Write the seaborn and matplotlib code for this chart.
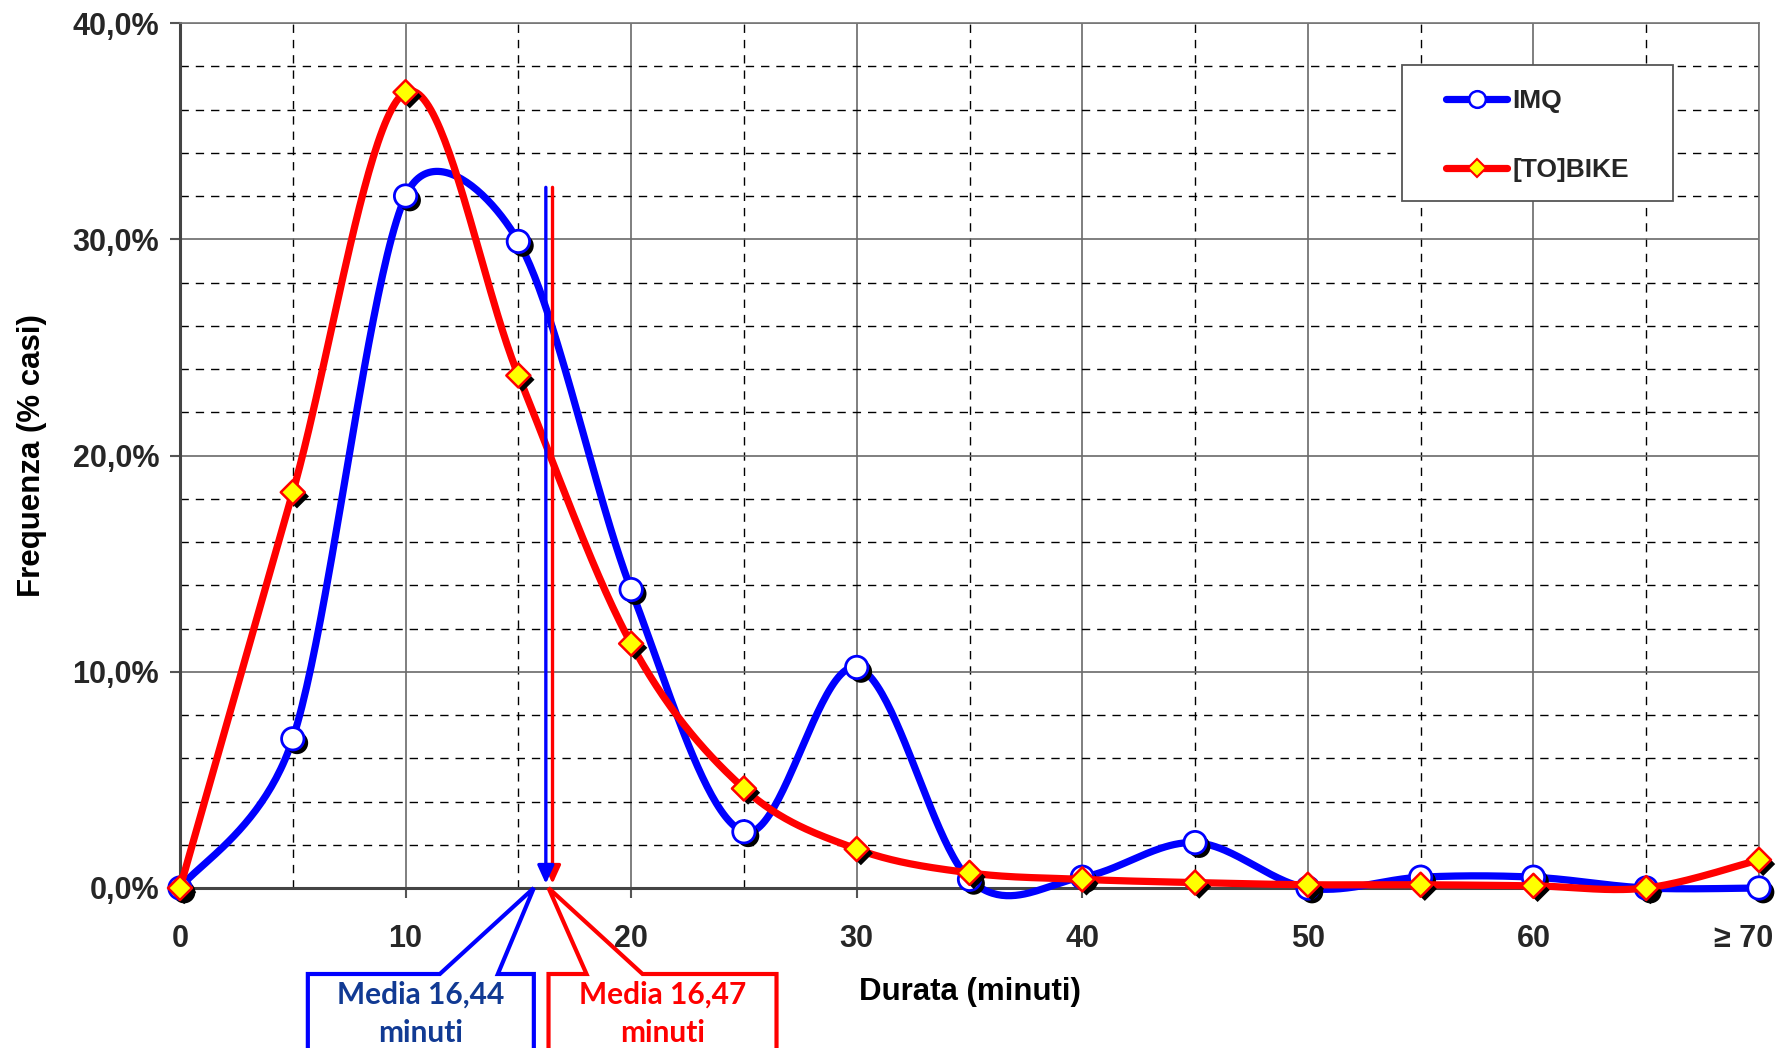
import numpy as np
import pandas as pd
import matplotlib
matplotlib.use("Agg")
import matplotlib.pyplot as plt
import seaborn as sns
from matplotlib import patheffects as pe
from matplotlib import transforms as mtrans
from matplotlib.lines import Line2D
from matplotlib.patches import Polygon, Rectangle
from matplotlib.ticker import MultipleLocator, FixedLocator

# ---- data -------------------------------------------------------------
durata = [0, 5, 10, 15, 20, 25, 30, 35, 40, 45, 50, 55, 60, 65, 70]
imq = [0.0, 6.9, 32.0, 29.9, 13.8, 2.6, 10.2, 0.4, 0.5, 2.1, 0.0, 0.5, 0.5, 0.0, 0.0]
tobike = [0.0, 18.3, 36.8, 23.7, 11.3, 4.6, 1.8, 0.7, 0.4, 0.25, 0.15, 0.15, 0.1, 0.0, 1.3]

x_ticks = [0, 10, 20, 30, 40, 50, 60, 70]
x_tick_labels = ["0", "10", "20", "30", "40", "50", "60", "≥ 70"]
y_ticks = [0, 10, 20, 30, 40]
y_tick_labels = ["0,0%", "10,0%", "20,0%", "30,0%", "40,0%"]

media_imq = 16.44
media_tobike = 16.47
freccia_top = 32.4

serie_labels = ["IMQ", "[TO]BIKE"]
media_labels = ["Media 16,44\nminuti", "Media 16,47\nminuti"]

BLUE = "#0000FF"
RED = "#FF0000"
YELLOW = "#FFFF00"

# figure geometry (pixels at 100 dpi)
FIG_W, FIG_H = 1785, 1048
AX_L, AX_R, AX_T, AX_B = 180, 1759, 23, 888
XMAX, YMAX = 70, 40


def smooth(x, y, n=50):
    """Spreadsheet-style smoothed line: cubic Bezier through every point,
    control arms |p2-p0|/6 capped at half the segment length (screen space)."""
    sx = (AX_R - AX_L) / XMAX
    sy = (AX_B - AX_T) / YMAX
    pts = np.column_stack([np.asarray(x, float) * sx, np.asarray(y, float) * sy])
    P = np.vstack([pts[0], pts, pts[-1]])
    t = np.linspace(0, 1, n)[:, None]
    out = []
    for i in range(1, len(P) - 2):
        p0, p1, p2, p3 = P[i - 1], P[i], P[i + 1], P[i + 2]
        d12 = np.hypot(*(p2 - p1))
        v1, v2 = p2 - p0, p3 - p1
        n1, n2 = np.hypot(*v1), np.hypot(*v2)
        a1 = min(n1 / 6.0, d12 / 2.0)
        a2 = min(n2 / 6.0, d12 / 2.0)
        b1 = p1 + (v1 / n1 * a1 if n1 > 0 else 0)
        b2 = p2 - (v2 / n2 * a2 if n2 > 0 else 0)
        seg = (1 - t) ** 3 * p1 + 3 * (1 - t) ** 2 * t * b1 + 3 * (1 - t) * t ** 2 * b2 + t ** 3 * p2
        out.append(seg if i == 1 else seg[1:])
    out = np.vstack(out)
    return out[:, 0] / sx, out[:, 1] / sy


sns.set_theme(style="white")
plt.rcParams["font.family"] = ["Liberation Sans", "DejaVu Sans"]
plt.rcParams["font.weight"] = "bold"

fig = plt.figure(figsize=(FIG_W / 100, FIG_H / 100), dpi=100)
ax = fig.add_axes([AX_L / FIG_W, 1 - AX_B / FIG_H, (AX_R - AX_L) / FIG_W, (AX_B - AX_T) / FIG_H])

shadow = [pe.SimplePatchShadow(offset=(3, -3), shadow_rgbFace="black", alpha=1.0), pe.Normal()]

# IMQ curve + markers
sx_i, sy_i = smooth(durata, imq)
sns.lineplot(x=sx_i, y=sy_i, sort=False, estimator=None, color=BLUE,
             linewidth=5.2, ax=ax, zorder=3, clip_on=False)
sns.scatterplot(x=durata, y=imq, marker="o", s=260, color="white", edgecolor=BLUE,
                linewidth=2, ax=ax, zorder=4, clip_on=False, path_effects=shadow)

# [TO]BIKE curve + markers
sx_t, sy_t = smooth(durata, tobike)
sns.lineplot(x=sx_t, y=sy_t, sort=False, estimator=None, color=RED,
             linewidth=5.2, ax=ax, zorder=5, clip_on=False)
sns.scatterplot(x=durata, y=tobike, marker="D", s=150, color=YELLOW, edgecolor=RED,
                linewidth=1.8, ax=ax, zorder=6, clip_on=False, path_effects=shadow)

# axes, ticks, grid
ax.set_xlim(0, XMAX)
ax.set_ylim(0, YMAX)
ax.xaxis.set_major_locator(FixedLocator(x_ticks))
ax.xaxis.set_minor_locator(MultipleLocator(5))
ax.yaxis.set_major_locator(FixedLocator(y_ticks))
ax.yaxis.set_minor_locator(MultipleLocator(2))
ax.set_xticklabels(x_tick_labels, fontsize=22, fontweight="bold")
ax.set_yticklabels(y_tick_labels, fontsize=22, fontweight="bold")
ax.tick_params(which="major", direction="out", length=7, width=1.5, color="#555555",
               bottom=True, left=True)
ax.tick_params(axis="x", which="major", pad=19)
ax.tick_params(axis="y", which="major", pad=8)
ax.tick_params(which="minor", length=0)

# the last category label sits just inside the figure edge
last = ax.get_xticklabels()[-1]
last.set_horizontalalignment("right")
last.set_transform(last.get_transform() + mtrans.ScaledTranslation(0.14, 0, fig.dpi_scale_trans))

ax.grid(which="major", color="#6a6a6a", linewidth=1.2, linestyle="-")
ax.grid(which="minor", color="black", linewidth=1.0, linestyle=(0, (6, 5)))
ax.set_axisbelow(True)

for side in ["left", "bottom"]:
    ax.spines[side].set_color("#444444")
    ax.spines[side].set_linewidth(2.2)
for side in ["top", "right"]:
    ax.spines[side].set_color("#777777")
    ax.spines[side].set_linewidth(1.2)

ax.set_xlabel("Durata (minuti)", fontsize=22.5, fontweight="bold", color="black")
ax.set_ylabel("Frequenza (% casi)", fontsize=22.5, fontweight="bold", color="black")
ax.xaxis.set_label_coords(0.5, -0.103)
ax.yaxis.set_label_coords(-0.084, 0.5)

# legend with a square frame
lx0, ly0, lw_, lh_ = 0.774, 0.794, 0.1715, 0.157
ax.add_patch(Rectangle((lx0, ly0), lw_, lh_, transform=ax.transAxes, facecolor="white",
                       edgecolor="#555555", linewidth=1.3, zorder=9))
handles = [
    Line2D([], [], color=BLUE, lw=5.2, marker="o", markersize=12, markerfacecolor="white",
           markeredgecolor=BLUE, markeredgewidth=1.8),
    Line2D([], [], color=RED, lw=5.2, marker="D", markersize=9, markerfacecolor=YELLOW,
           markeredgecolor=RED, markeredgewidth=1.5),
]
leg = ax.legend(handles, serie_labels, loc="center",
                bbox_to_anchor=(lx0 + lw_ / 2, ly0 + lh_ / 2 - 0.003),
                frameon=False, prop={"size": 19, "weight": "bold"}, handlelength=2.3,
                handletextpad=0.2, labelspacing=1.7, borderaxespad=0)
leg.set_zorder(10)

# mean arrows (red behind blue, a few pixels apart so both remain visible)
for media, col, dx, z in [(media_tobike, RED, 1, 7), (media_imq, BLUE, -5, 8)]:
    tr = mtrans.offset_copy(ax.transData, fig=fig, x=dx, y=0, units="dots")
    ax.annotate("", xy=(media, 0), xytext=(media, freccia_top), xycoords=tr, textcoords=tr,
                arrowprops=dict(arrowstyle="-|>,head_length=0.55,head_width=0.25", color=col,
                                lw=2.4, shrinkA=0, shrinkB=3, mutation_scale=20),
                zorder=z, annotation_clip=False)

# callout boxes pointing at the means (outline in pixel offsets from the pointer tip)
callouts = [
    (media_imq, -17, BLUE, "#113A93", media_labels[0],
     [(0, 0), (-36, -86), (0, -86), (0, -260), (-226, -260), (-226, -86), (-94, -86)], -113),
    (media_tobike, -3, RED, RED, media_labels[1],
     [(0, 0), (94, -86), (228, -86), (228, -260), (0, -260), (0, -86), (38, -86)], 114),
]
for media, dx, edge, tcol, label, verts, tx in callouts:
    tr = mtrans.Affine2D().translate(dx, 0) + mtrans.ScaledTranslation(media, 0, ax.transData)
    ax.add_patch(Polygon(verts, closed=True, transform=tr, facecolor="white", edgecolor=edge,
                         linewidth=3, clip_on=False, zorder=11, joinstyle="miter"))
    ax.text(tx, -126, label, transform=tr, ha="center", va="center", color=tcol,
            fontsize=21.5, fontweight="bold", family=["Lato", "DejaVu Sans"],
            linespacing=1.45, clip_on=False, zorder=12)

fig.savefig("out.png", dpi=100)
